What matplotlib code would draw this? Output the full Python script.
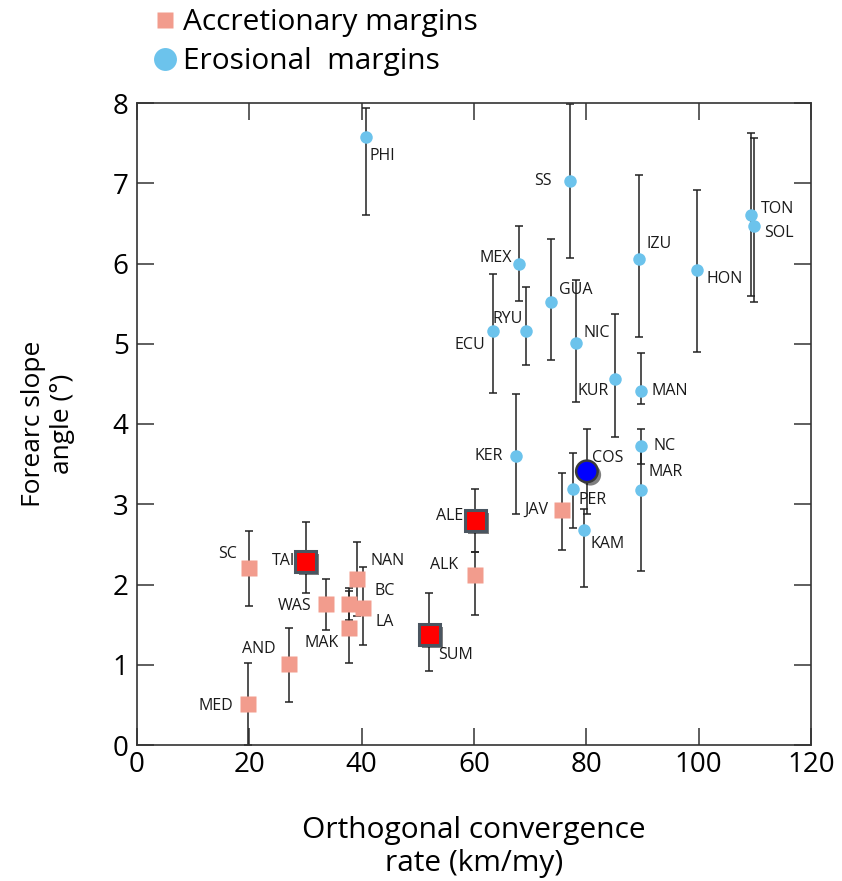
import matplotlib
matplotlib.use('Agg')
import matplotlib.pyplot as plt
import matplotlib.patheffects as pe
from matplotlib.lines import Line2D

plt.rcParams['font.family'] = ['Open Sans', 'DejaVu Sans']

# ---------------- data ----------------
# Accretionary margins (light salmon squares)
acc_names = ['SC', 'MED', 'AND', 'WAS', 'BC', 'LA', 'NAN', 'MAK', 'ALK', 'JAV']
acc_x = [20.0, 19.8, 27.1, 33.6, 37.7, 40.3, 39.1, 37.7, 60.2, 75.7]
acc_y = [2.21, 0.51, 1.01, 1.76, 1.76, 1.71, 2.07, 1.46, 2.12, 2.93]
acc_err_lo = [0.48, 0.51, 0.47, 0.33, 0.20, 0.47, 0.46, 0.44, 0.50, 0.50]
acc_err_hi = [0.46, 0.51, 0.45, 0.31, 0.20, 0.51, 0.46, 0.46, 0.29, 0.46]

# Highlighted accretionary margins (red squares)
hacc_names = ['TAI', 'SUM', 'ALE']
hacc_x = [30.0, 52.05, 60.2]
hacc_y = [2.29, 1.38, 2.80]
hacc_err_lo = [0.40, 0.46, 0.40]
hacc_err_hi = [0.49, 0.52, 0.39]

# Erosional margins (light blue circles)
ero_names = ['PHI', 'SS', 'MEX', 'GUA', 'ECU', 'RYU', 'NIC', 'KUR', 'IZU', 'MAN',
             'HON', 'TON', 'SOL', 'KER', 'PER', 'KAM', 'NC', 'MAR']
ero_x = [40.7, 77.1, 68.0, 73.7, 63.4, 69.3, 78.1, 85.1, 89.4, 89.7,
         99.75, 109.4, 109.8, 67.5, 77.6, 79.6, 89.7, 89.7]
ero_y = [7.58, 7.03, 6.00, 5.52, 5.16, 5.16, 5.01, 4.56, 6.06, 4.41,
         5.92, 6.61, 6.47, 3.60, 3.19, 2.68, 3.72, 3.18]
ero_err_lo = [0.98, 0.96, 0.47, 0.72, 0.77, 0.43, 0.73, 0.72, 0.98, 0.16,
              1.02, 1.02, 0.95, 0.72, 0.49, 0.71, 0.22, 1.01]
ero_err_hi = [0.36, 0.96, 0.47, 0.78, 0.71, 0.55, 0.78, 0.81, 1.04, 0.48,
              1.00, 1.01, 1.09, 0.78, 0.45, 0.26, 0.22, 0.54]

# Highlighted erosional margin (dark blue circle)
hero_names = ['COS']
hero_x = [80.1]
hero_y = [3.41]
hero_err_lo = [0.53]
hero_err_hi = [0.53]

x_ticks = [0, 20, 40, 60, 80, 100, 120]
y_ticks = [0, 1, 2, 3, 4, 5, 6, 7, 8]

# ---------------- label layout (pixel offsets: dx, dy-down, alignment) ----------------
label_pos = {
    'PHI': (4, 19, 'left'), 'SS': (-18, 0, 'right'), 'MEX': (-7, -6, 'right'),
    'GUA': (8, -12, 'left'), 'ECU': (-8, 14, 'right'), 'RYU': (-3, -12, 'right'),
    'NIC': (8, -10, 'left'), 'KUR': (-6, 12, 'right'), 'IZU': (7, -15, 'left'),
    'MAN': (11, 0, 'left'), 'HON': (9, 9, 'left'), 'TON': (9, -6, 'left'),
    'SOL': (10, 7, 'left'), 'KER': (-13, 0, 'right'), 'COS': (5, -13, 'left'),
    'PER': (6, 11, 'left'), 'JAV': (-14, 0, 'right'), 'KAM': (6, 14, 'left'),
    'NC': (13, 0, 'left'), 'MAR': (8, -18, 'left'), 'SC': (-12, -14, 'right'),
    'TAI': (-34, 0, 'left'), 'NAN': (14, -18, 'left'), 'BC': (26, -13, 'left'),
    'WAS': (-14, 2, 'right'), 'LA': (12, 14, 'left'), 'MAK': (-10, 15, 'right'),
    'AND': (-14, -15, 'right'), 'MED': (-15, 2, 'right'), 'SUM': (9, 21, 'left'),
    'ALE': (-39, -4, 'left'), 'ALK': (-17, -10, 'right'),
}

salmon = '#F29C8D'
skyblue = '#6CC3EC'
red = '#FF0000'
blue = '#0000FF'

fig = plt.figure(figsize=(8.42, 8.81), dpi=100)
ax = fig.add_axes([137 / 842, 1 - 745 / 881, (811 - 137) / 842, (745 - 103) / 881])

eb_kw = dict(fmt='none', ecolor='#222222', elinewidth=1.1, capsize=3.2, capthick=1.1, zorder=2)
ax.errorbar(acc_x, acc_y, yerr=[acc_err_lo, acc_err_hi], **eb_kw)
ax.errorbar(hacc_x, hacc_y, yerr=[hacc_err_lo, hacc_err_hi], **eb_kw)
ax.errorbar(ero_x, ero_y, yerr=[ero_err_lo, ero_err_hi], **eb_kw)
ax.errorbar(hero_x, hero_y, yerr=[hero_err_lo, hero_err_hi], **eb_kw)

ax.plot(acc_x, acc_y, 's', ms=12, color=salmon, mec='none', zorder=4)
ax.plot(ero_x, ero_y, 'o', ms=9, color=skyblue, mec='none', zorder=4)

shadow = [pe.SimplePatchShadow(offset=(2.5, -2.5), shadow_rgbFace='k', alpha=0.5), pe.Normal()]
ax.plot(hacc_x, hacc_y, 's', ms=15, color=red, mec='#4A5560', mew=2.2, zorder=6,
        path_effects=shadow)
ax.plot(hero_x, hero_y, 'o', ms=15.5, color=blue, mec='#3A3A3A', mew=1.8, zorder=6,
        path_effects=shadow)

for names, xs, ys in [(acc_names, acc_x, acc_y), (hacc_names, hacc_x, hacc_y),
                      (ero_names, ero_x, ero_y), (hero_names, hero_x, hero_y)]:
    for n, x, y in zip(names, xs, ys):
        dx, dy, ha = label_pos[n]
        ax.annotate(n, (x, y), xytext=(dx, -dy), textcoords='offset pixels',
                    ha=ha, va='center', fontsize=11.5, color='#1a1a1a', zorder=3)

ax.set_xlim(0, 120)
ax.set_ylim(0, 8)
ax.set_xticks(x_ticks)
ax.set_yticks(y_ticks)
ax.set_xticklabels([str(t) for t in x_ticks], fontsize=20)
ax.set_yticklabels([str(t) for t in y_ticks], fontsize=20)
ax.tick_params(direction='in', length=12, width=1.1, color='#333333',
               top=True, right=True, pad=6)
ax.tick_params(axis='x', pad=4)
for s in ax.spines.values():
    s.set_linewidth(1.2)
    s.set_color('#333333')

ax.set_xlabel('Orthogonal convergence\nrate (km/my)', fontsize=21.5, labelpad=27,
              linespacing=1.2)
ax.set_ylabel('Forearc slope\nangle (°)', fontsize=19, labelpad=27, linespacing=1.2)

handles = [Line2D([], [], marker='s', ls='none', ms=11.5, color=salmon, mec='none'),
           Line2D([], [], marker='o', ls='none', ms=16.5, color=skyblue, mec='none')]
fig.legend(handles, ['Accretionary margins', 'Erosional  margins'],
           loc='upper left', bbox_to_anchor=(150 / 842, 1 - 5 / 881), frameon=False,
           fontsize=21.5, handlelength=0.8, handletextpad=0.2, labelspacing=0.35,
           borderpad=0.1, borderaxespad=0.0)

fig.savefig('out.png', dpi=100)
